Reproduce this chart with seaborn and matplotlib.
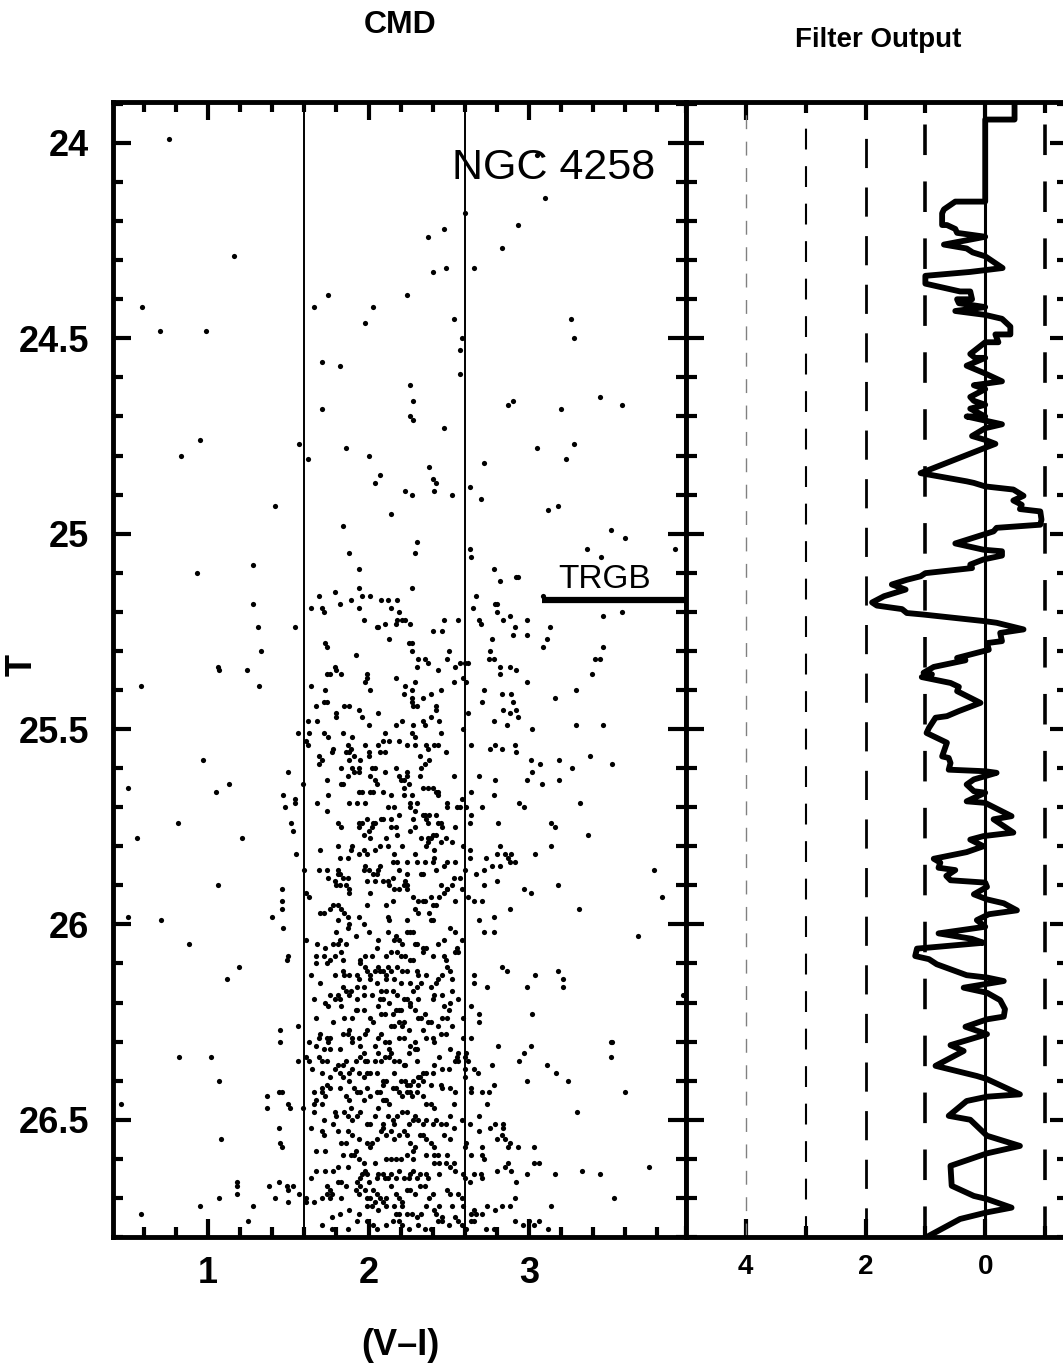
import matplotlib
matplotlib.use("Agg")
import matplotlib.pyplot as plt
import seaborn as sns
import pandas as pd
from matplotlib.ticker import MultipleLocator, FuncFormatter

sns.set_style("ticks")
plt.rcParams['font.family'] = ['Liberation Sans', 'DejaVu Sans']
plt.rcParams['lines.scale_dashes'] = False
for key in ['text.color', 'axes.labelcolor', 'xtick.color', 'ytick.color', 'axes.edgecolor']:
    plt.rcParams[key] = 'black'

# ---- CMD stars, (V-I colour, T magnitude) ----
# bright part, above the tip
stars_bright = [
    (0.76, 23.99), (3.05, 24.03), (3.10, 24.14), (2.60, 24.18), (2.47, 24.22), (2.37, 24.24),
    (2.93, 24.21), (2.83, 24.27), (1.16, 24.29), (2.40, 24.33), (2.48, 24.32), (2.66, 24.32),
    (0.59, 24.42), (1.75, 24.39), (2.24, 24.39), (1.66, 24.42), (2.03, 24.42), (0.70, 24.48),
    (0.99, 24.48), (1.98, 24.46), (2.53, 24.45), (3.26, 24.45), (3.28, 24.50), (2.58, 24.50),
    (2.57, 24.53), (1.71, 24.56), (1.82, 24.57), (2.57, 24.59), (2.26, 24.62), (2.28, 24.66),
    (2.87, 24.67), (2.90, 24.66), (3.44, 24.65), (3.58, 24.67), (3.20, 24.68), (1.71, 24.68),
    (2.26, 24.70), (2.28, 24.71), (2.47, 24.73), (0.95, 24.76), (0.83, 24.80), (1.57, 24.77),
    (1.62, 24.81), (1.86, 24.78), (2.00, 24.80), (3.05, 24.78), (3.28, 24.77), (3.23, 24.81),
    (2.72, 24.82), (2.38, 24.83), (2.40, 24.86), (2.42, 24.87), (2.41, 24.89), (2.07, 24.85),
    (2.04, 24.87), (2.23, 24.89), (2.27, 24.90), (2.52, 24.90), (2.63, 24.88), (2.70, 24.91),
    (1.42, 24.93), (2.14, 24.95), (3.12, 24.94), (3.18, 24.93), (1.84, 24.98), (3.51, 24.99),
    (3.60, 25.01), (2.30, 25.02), (2.29, 25.05), (1.88, 25.05), (2.63, 25.04), (2.64, 25.06),
    (3.36, 25.04), (3.45, 25.06), (3.91, 25.04),
]

# faint field stars well away from the giant branch
stars_field = [
    (1.28, 25.08), (0.93, 25.10), (1.28, 25.18), (1.31, 25.24), (1.33, 25.30), (1.06, 25.34),
    (1.07, 25.35), (1.24, 25.35), (1.32, 25.39), (0.58, 25.39), (0.97, 25.58), (0.50, 25.65),
    (1.05, 25.66), (1.13, 25.64), (0.81, 25.74), (0.56, 25.78), (1.21, 25.78), (1.06, 25.90),
    (0.50, 25.98), (0.71, 25.99), (0.88, 26.05), (1.12, 26.14), (1.19, 26.11), (0.82, 26.34),
    (1.02, 26.34), (1.07, 26.40), (0.46, 26.46), (1.08, 26.55), (1.18, 26.66), (1.18, 26.67),
    (1.07, 26.70), (1.18, 26.69), (0.95, 26.72), (0.58, 26.74), (1.25, 26.76), (1.28, 26.72),
    (3.58, 25.20), (3.46, 25.21), (3.46, 25.29), (3.44, 25.32), (3.41, 25.32), (3.39, 25.36),
    (3.46, 25.49), (3.52, 25.59), (3.78, 25.86), (3.83, 25.93), (3.68, 26.03), (3.96, 26.18),
    (3.60, 26.43), (3.75, 26.62), (3.44, 26.64), (3.53, 26.70), (3.51, 26.30), (3.52, 26.30),
    (3.51, 26.34),
]

# red giant branch, T = 25.07 - 25.91
stars_rgb_top = [
    (1.94, 25.09), (2.78, 25.09), (2.82, 25.12), (2.92, 25.11), (2.93, 25.11), (1.94, 25.14),
    (2.27, 25.14), (1.79, 25.15), (1.69, 25.16), (1.96, 25.16), (2.01, 25.16), (1.82, 25.18),
    (1.89, 25.17), (2.08, 25.17), (2.12, 25.17), (2.18, 25.17), (2.67, 25.16), (2.65, 25.19),
    (2.79, 25.18), (2.80, 25.18), (3.09, 25.16), (1.64, 25.19), (1.71, 25.19), (1.72, 25.20),
    (1.94, 25.19), (2.14, 25.19), (2.19, 25.20), (1.97, 25.22), (2.17, 25.23), (2.18, 25.22),
    (2.21, 25.22), (2.23, 25.22), (2.26, 25.23), (2.10, 25.23), (2.06, 25.24), (2.05, 25.24),
    (2.47, 25.22), (2.56, 25.22), (2.69, 25.22), (2.70, 25.23), (2.80, 25.20), (2.84, 25.22),
    (2.88, 25.21), (2.91, 25.24), (2.99, 25.22), (3.13, 25.24), (1.54, 25.24), (2.40, 25.25),
    (2.46, 25.25), (1.73, 25.28), (1.74, 25.29), (2.13, 25.27), (2.25, 25.28), (2.27, 25.28),
    (2.27, 25.30), (1.92, 25.31), (2.77, 25.27), (2.90, 25.26), (2.99, 25.26), (3.11, 25.27),
    (3.09, 25.29), (2.50, 25.30), (2.76, 25.30), (2.30, 25.34), (2.31, 25.32), (2.35, 25.32),
    (2.37, 25.33), (2.49, 25.32), (2.54, 25.34), (2.57, 25.33), (2.60, 25.33), (2.62, 25.33),
    (2.75, 25.32), (2.78, 25.32), (2.82, 25.34), (2.88, 25.34), (2.92, 25.35), (2.82, 25.36),
    (2.43, 25.35), (1.79, 25.34), (1.80, 25.35), (1.83, 25.36), (1.76, 25.36), (1.74, 25.36),
    (1.99, 25.36), (1.99, 25.37), (2.17, 25.37), (2.59, 25.37), (1.64, 25.39), (1.73, 25.40),
    (1.98, 25.38), (2.01, 25.40), (2.23, 25.39), (2.22, 25.41), (2.29, 25.38), (2.27, 25.40),
    (2.27, 25.42), (2.27, 25.43), (2.28, 25.44), (2.30, 25.44), (2.34, 25.42), (2.39, 25.41),
    (2.45, 25.40), (2.42, 25.44), (2.53, 25.38), (2.61, 25.38), (2.72, 25.40), (2.71, 25.43),
    (2.83, 25.41), (2.89, 25.41), (2.90, 25.43), (2.99, 25.38), (3.16, 25.42), (3.29, 25.40),
    (1.67, 25.44), (1.72, 25.43), (1.74, 25.43), (1.85, 25.44), (1.88, 25.44), (1.94, 25.45),
    (2.42, 25.45), (1.80, 25.46), (1.80, 25.47), (2.06, 25.46), (1.96, 25.47), (1.62, 25.48),
    (1.68, 25.48), (2.00, 25.49), (2.17, 25.49), (2.21, 25.48), (2.28, 25.49), (2.27, 25.51),
    (2.34, 25.48), (2.35, 25.49), (2.39, 25.47), (2.44, 25.48), (2.62, 25.46), (2.59, 25.50),
    (2.78, 25.48), (2.84, 25.45), (2.88, 25.46), (2.92, 25.45), (2.93, 25.47), (2.86, 25.49),
    (3.02, 25.50), (3.29, 25.49), (2.45, 25.51), (1.72, 25.51), (1.75, 25.52), (1.84, 25.51),
    (1.90, 25.52), (1.56, 25.51), (1.63, 25.51), (1.61, 25.53), (1.62, 25.54), (2.29, 25.52),
    (1.87, 25.54), (2.10, 25.51), (2.09, 25.53), (2.13, 25.53), (1.98, 25.54), (2.06, 25.54),
    (2.19, 25.53), (2.24, 25.54), (2.29, 25.54), (2.36, 25.54), (2.37, 25.55), (2.41, 25.54),
    (2.43, 25.54), (2.48, 25.56), (2.64, 25.54), (2.76, 25.55), (2.79, 25.54), (2.83, 25.55),
    (2.91, 25.54), (2.92, 25.56), (1.78, 25.55), (1.77, 25.56), (1.86, 25.56), (1.88, 25.56),
    (1.89, 25.55), (2.00, 25.56), (2.00, 25.57), (2.07, 25.56), (2.10, 25.56), (1.69, 25.57),
    (1.71, 25.58), (1.69, 25.59), (1.83, 25.60), (1.88, 25.58), (1.95, 25.58), (1.91, 25.57),
    (2.32, 25.57), (2.35, 25.59), (2.38, 25.58), (3.01, 25.58), (3.07, 25.59), (3.19, 25.58),
    (3.27, 25.60), (3.38, 25.57), (1.50, 25.61), (1.90, 25.60), (1.91, 25.61), (1.94, 25.60),
    (1.94, 25.61), (1.87, 25.62), (1.74, 25.63), (1.83, 25.64), (1.84, 25.64), (2.01, 25.62),
    (2.02, 25.60), (2.04, 25.60), (2.04, 25.63), (2.05, 25.64), (2.10, 25.61), (2.17, 25.60),
    (2.19, 25.62), (2.20, 25.63), (2.22, 25.63), (2.24, 25.62), (2.25, 25.64), (2.24, 25.61),
    (2.22, 25.65), (2.33, 25.60), (2.32, 25.62), (2.34, 25.65), (2.37, 25.65), (2.40, 25.65),
    (2.43, 25.66), (2.43, 25.67), (2.42, 25.66), (2.53, 25.62), (2.69, 25.62), (2.79, 25.63),
    (2.99, 25.63), (3.02, 25.61), (3.08, 25.64), (3.19, 25.63), (1.47, 25.67), (1.54, 25.68),
    (1.54, 25.69), (1.48, 25.70), (1.59, 25.64), (1.94, 25.66), (1.96, 25.66), (2.01, 25.66),
    (2.03, 25.66), (2.09, 25.66), (2.14, 25.67), (2.22, 25.67), (2.27, 25.67), (2.78, 25.67),
    (2.64, 25.66), (1.68, 25.69), (1.75, 25.67), (1.74, 25.71), (1.88, 25.69), (1.93, 25.69),
    (1.98, 25.69), (2.12, 25.70), (2.16, 25.70), (2.19, 25.72), (2.26, 25.70), (2.26, 25.69),
    (2.29, 25.71), (2.30, 25.69), (2.28, 25.73), (2.34, 25.72), (2.36, 25.73), (2.35, 25.72),
    (2.38, 25.72), (2.42, 25.72), (2.49, 25.69), (2.49, 25.70), (2.55, 25.70), (2.57, 25.70),
    (2.58, 25.68), (2.61, 25.70), (2.64, 25.72), (2.71, 25.70), (2.94, 25.69), (2.97, 25.70),
    (3.32, 25.69), (1.52, 25.74), (1.53, 25.76), (1.81, 25.74), (1.83, 25.75), (1.94, 25.75),
    (1.94, 25.74), (1.99, 25.73), (1.96, 25.74), (2.02, 25.75), (2.00, 25.76), (2.04, 25.74),
    (2.03, 25.74), (2.08, 25.73), (2.09, 25.73), (2.14, 25.73), (2.14, 25.75), (2.17, 25.75),
    (2.26, 25.76), (2.29, 25.75), (2.37, 25.74), (2.43, 25.74), (2.45, 25.74), (2.46, 25.75),
    (2.54, 25.75), (2.63, 25.74), (2.81, 25.74), (3.14, 25.74), (3.16, 25.75), (1.55, 25.82),
    (1.70, 25.81), (1.81, 25.80), (1.82, 25.83), (1.87, 25.83), (1.89, 25.81), (1.90, 25.80),
    (1.94, 25.82), (1.97, 25.81), (1.99, 25.82), (2.01, 25.78), (1.97, 25.77), (2.07, 25.80),
    (2.04, 25.81), (2.11, 25.78), (2.12, 25.80), (2.16, 25.82), (2.18, 25.77), (2.21, 25.80),
    (2.29, 25.82), (2.33, 25.78), (2.37, 25.78), (2.39, 25.78), (2.40, 25.77), (2.42, 25.77),
    (2.36, 25.80), (2.37, 25.79), (2.41, 25.81), (2.45, 25.79), (2.48, 25.78), (2.52, 25.79),
    (2.59, 25.80), (2.63, 25.81), (2.73, 25.83), (2.80, 25.82), (2.82, 25.80), (2.85, 25.82),
    (2.87, 25.83), (2.89, 25.82), (3.04, 25.82), (3.14, 25.80), (3.37, 25.77), (1.60, 25.86),
    (1.69, 25.86), (1.74, 25.86), (1.75, 25.88), (1.81, 25.86), (1.81, 25.87), (1.82, 25.87),
    (1.84, 25.88), (1.87, 25.88), (1.79, 25.89), (1.80, 25.90), (1.82, 25.90), (1.86, 25.90),
    (1.88, 25.91), (1.97, 25.86), (1.98, 25.85), (2.00, 25.86), (1.99, 25.89), (2.03, 25.87),
    (2.05, 25.87), (2.06, 25.86), (2.04, 25.89), (2.07, 25.85), (2.09, 25.89), (2.12, 25.89),
    (2.13, 25.90), (2.15, 25.88), (2.15, 25.84), (2.18, 25.84), (2.19, 25.86), (2.22, 25.90),
    (2.23, 25.89), (2.24, 25.90), (2.24, 25.87), (2.24, 25.84), (2.30, 25.84), (2.33, 25.87),
    (2.34, 25.87), (2.35, 25.84), (2.40, 25.84), (2.41, 25.83), (2.42, 25.86), (2.47, 25.85),
    (2.49, 25.84), (2.54, 25.84), (2.53, 25.88), (2.57, 25.88), (2.45, 25.90), (2.49, 25.91),
    (2.52, 25.90), (2.60, 25.86), (2.63, 25.83), (2.67, 25.87), (2.72, 25.86), (2.72, 25.90),
    (2.77, 25.85), (2.80, 25.89), (2.82, 25.85), (2.88, 25.84), (2.91, 25.84), (3.18, 25.90),
]

# red giant branch, T = 25.91 - 26.8
stars_rgb_low = [
    (1.46, 25.91), (1.61, 25.92), (1.63, 25.93), (1.88, 25.92), (2.01, 25.92), (2.16, 25.91),
    (2.19, 25.91), (2.24, 25.91), (2.28, 25.93), (2.31, 25.94), (2.35, 25.94), (2.39, 25.93),
    (2.44, 25.93), (2.47, 25.92), (2.49, 25.91), (2.54, 25.94), (2.58, 25.91), (2.62, 25.93),
    (2.66, 25.94), (2.71, 25.94), (2.97, 25.91), (3.01, 25.92), (1.46, 25.94), (1.46, 25.96),
    (1.40, 25.98), (1.70, 25.97), (1.72, 25.97), (1.76, 25.96), (1.78, 25.95), (1.81, 25.95),
    (1.83, 25.96), (1.85, 25.97), (1.87, 25.98), (1.81, 25.99), (1.99, 25.95), (2.11, 25.95),
    (2.15, 25.94), (2.29, 25.96), (2.31, 25.97), (2.34, 25.94), (2.40, 25.95), (2.42, 25.95),
    (2.38, 25.97), (2.39, 25.99), (2.40, 25.99), (1.94, 25.98), (1.97, 26.00), (2.12, 25.98),
    (2.13, 25.99), (2.24, 25.99), (2.78, 25.98), (2.88, 25.96), (3.31, 25.96), (2.69, 25.99),
    (1.47, 26.01), (1.80, 26.02), (1.82, 26.04), (1.81, 26.05), (1.78, 26.05), (1.87, 26.01),
    (1.88, 26.00), (1.92, 26.03), (2.00, 26.02), (2.06, 26.04), (2.12, 26.02), (2.17, 26.03),
    (2.16, 26.04), (2.19, 26.04), (2.21, 26.05), (2.24, 26.02), (2.26, 26.02), (2.28, 26.02),
    (2.29, 26.05), (2.30, 26.05), (2.34, 26.06), (2.36, 26.06), (2.43, 26.05), (2.47, 26.04),
    (2.51, 26.01), (2.54, 26.02), (2.58, 26.04), (1.61, 26.04), (1.68, 26.05), (1.73, 26.06),
    (1.83, 26.07), (1.86, 26.05), (2.05, 26.06), (2.02, 26.08), (1.98, 26.08), (1.95, 26.09),
    (2.11, 26.08), (2.14, 26.07), (2.18, 26.07), (2.20, 26.08), (2.23, 26.08), (2.26, 26.09),
    (2.28, 26.09), (2.34, 26.07), (2.40, 26.08), (2.47, 26.08), (2.48, 26.09), (2.54, 26.07),
    (2.56, 26.07), (2.55, 26.06), (2.72, 26.02), (2.78, 26.02), (1.67, 26.08), (1.72, 26.08),
    (1.79, 26.08), (1.50, 26.08), (1.49, 26.09), (1.67, 26.10), (1.74, 26.10), (1.76, 26.09),
    (1.84, 26.09), (1.84, 26.12), (1.85, 26.13), (1.88, 26.13), (1.93, 26.13), (1.95, 26.10),
    (1.98, 26.11), (1.99, 26.12), (2.01, 26.13), (2.04, 26.12), (2.06, 26.11), (2.07, 26.12),
    (2.09, 26.12), (2.11, 26.13), (2.12, 26.11), (2.14, 26.12), (2.16, 26.14), (2.18, 26.11),
    (2.21, 26.12), (2.24, 26.12), (2.30, 26.12), (2.31, 26.13), (2.33, 26.15), (2.36, 26.13),
    (2.39, 26.16), (2.42, 26.15), (2.43, 26.14), (2.46, 26.13), (2.49, 26.11), (2.51, 26.12),
    (2.52, 26.14), (1.64, 26.13), (1.70, 26.15), (1.79, 26.13), (1.84, 26.16), (1.89, 26.17),
    (1.93, 26.16), (1.94, 26.14), (1.97, 26.16), (2.01, 26.14), (2.05, 26.15), (2.08, 26.17),
    (2.11, 26.14), (2.15, 26.17), (2.20, 26.15), (2.26, 26.15), (2.28, 26.17), (2.30, 26.16),
    (2.52, 26.17), (2.66, 26.13), (2.66, 26.15), (2.74, 26.16), (2.83, 26.11), (2.86, 26.12),
    (2.99, 26.16), (3.04, 26.13), (3.18, 26.12), (3.21, 26.14), (3.21, 26.16), (1.66, 26.19),
    (1.73, 26.20), (1.75, 26.21), (1.76, 26.18), (1.79, 26.19), (1.81, 26.18), (1.82, 26.19),
    (1.86, 26.17), (1.88, 26.18), (1.83, 26.21), (1.93, 26.19), (1.97, 26.18), (2.02, 26.18),
    (2.07, 26.19), (2.09, 26.19), (2.11, 26.17), (2.18, 26.18), (2.22, 26.19), (2.24, 26.19),
    (2.26, 26.20), (2.31, 26.19), (2.40, 26.19), (2.41, 26.18), (2.46, 26.18), (2.47, 26.21),
    (2.51, 26.20), (2.56, 26.19), (1.67, 26.24), (1.78, 26.25), (1.85, 26.24), (1.90, 26.24),
    (1.92, 26.22), (1.93, 26.22), (1.97, 26.22), (2.01, 26.24), (2.03, 26.25), (2.06, 26.21),
    (2.08, 26.23), (2.10, 26.23), (2.13, 26.20), (2.15, 26.23), (2.17, 26.22), (2.19, 26.22),
    (2.20, 26.22), (2.22, 26.25), (2.26, 26.21), (2.29, 26.22), (2.31, 26.24), (2.33, 26.24),
    (2.35, 26.23), (2.37, 26.25), (2.39, 26.25), (2.43, 26.26), (2.46, 26.24), (2.49, 26.24),
    (2.50, 26.22), (2.52, 26.26), (2.59, 26.24), (2.64, 26.21), (2.69, 26.23), (2.69, 26.25),
    (3.02, 26.23), (1.56, 26.26), (1.45, 26.27), (1.45, 26.30), (1.63, 26.30), (1.67, 26.31),
    (1.69, 26.29), (1.70, 26.28), (1.74, 26.29), (1.76, 26.29), (1.75, 26.30), (1.72, 26.32),
    (1.76, 26.32), (1.82, 26.32), (1.84, 26.28), (1.87, 26.28), (1.90, 26.29), (1.90, 26.30),
    (1.88, 26.27), (1.94, 26.29), (1.95, 26.31), (1.98, 26.28), (1.99, 26.27), (2.04, 26.31),
    (2.06, 26.29), (2.08, 26.28), (2.10, 26.30), (2.13, 26.30), (2.13, 26.32), (2.14, 26.26),
    (2.16, 26.26), (2.19, 26.25), (2.21, 26.26), (2.19, 26.29), (2.22, 26.29), (2.25, 26.27),
    (2.26, 26.31), (2.29, 26.30), (2.30, 26.32), (2.34, 26.27), (2.36, 26.29), (2.40, 26.29),
    (2.41, 26.30), (2.45, 26.28), (2.48, 26.28), (2.51, 26.32), (2.56, 26.33), (2.59, 26.29),
    (2.64, 26.29), (2.81, 26.31), (3.01, 26.31), (2.97, 26.33), (1.56, 26.35), (1.61, 26.34),
    (1.63, 26.35), (1.65, 26.37), (1.69, 26.34), (1.71, 26.35), (1.74, 26.35), (1.79, 26.37),
    (1.81, 26.36), (1.84, 26.36), (1.86, 26.35), (1.88, 26.38), (1.90, 26.37), (1.92, 26.35),
    (1.95, 26.34), (1.97, 26.33), (1.98, 26.35), (1.99, 26.35), (2.04, 26.35), (2.06, 26.33),
    (2.08, 26.35), (2.10, 26.34), (2.13, 26.34), (2.14, 26.33), (2.16, 26.35), (2.19, 26.35),
    (2.22, 26.36), (2.23, 26.36), (2.25, 26.33), (2.29, 26.32), (2.30, 26.35), (2.32, 26.39),
    (2.34, 26.38), (2.36, 26.38), (2.40, 26.38), (2.41, 26.36), (2.44, 26.34), (2.46, 26.37),
    (2.50, 26.37), (2.54, 26.35), (2.55, 26.34), (2.56, 26.35), (2.60, 26.34), (2.61, 26.33),
    (2.62, 26.35), (2.66, 26.37), (2.64, 26.42), (2.68, 26.38), (2.77, 26.36), (2.94, 26.35),
    (2.99, 26.40), (3.11, 26.36), (3.17, 26.38), (3.24, 26.40), (1.71, 26.38), (1.76, 26.39),
    (1.82, 26.38), (1.84, 26.39), (1.88, 26.40), (1.94, 26.38), (1.97, 26.39), (1.99, 26.38),
    (2.01, 26.38), (2.05, 26.38), (2.09, 26.40), (2.09, 26.41), (2.11, 26.40), (2.16, 26.38),
    (2.17, 26.42), (2.20, 26.40), (2.23, 26.40), (2.24, 26.41), (2.26, 26.41), (2.28, 26.40),
    (2.31, 26.39), (2.31, 26.41), (2.34, 26.40), (2.39, 26.41), (2.45, 26.41), (2.51, 26.42),
    (2.54, 26.43), (2.60, 26.37), (2.60, 26.39), (1.71, 26.42), (1.74, 26.41), (1.76, 26.42),
    (1.82, 26.42), (1.37, 26.44), (1.44, 26.43), (1.46, 26.43), (1.66, 26.43), (1.67, 26.45),
    (1.71, 26.43), (1.73, 26.44), (1.86, 26.44), (1.88, 26.45), (1.91, 26.42), (1.93, 26.43),
    (1.95, 26.43), (1.97, 26.45), (1.99, 26.42), (2.01, 26.44), (2.05, 26.43), (2.07, 26.43),
    (2.09, 26.45), (2.10, 26.45), (2.11, 26.45), (2.13, 26.46), (2.15, 26.42), (2.19, 26.43),
    (2.21, 26.44), (2.24, 26.43), (2.26, 26.43), (2.27, 26.44), (2.30, 26.43), (2.34, 26.44),
    (2.36, 26.46), (2.39, 26.46), (2.41, 26.47), (2.46, 26.42), (2.53, 26.46), (2.64, 26.43),
    (2.71, 26.43), (2.75, 26.43), (2.78, 26.41), (2.74, 26.46), (2.69, 26.49), (1.37, 26.47),
    (1.50, 26.46), (1.51, 26.47), (1.59, 26.47), (1.66, 26.46), (1.66, 26.48), (1.71, 26.46),
    (1.72, 26.50), (1.79, 26.48), (1.80, 26.49), (1.85, 26.48), (1.87, 26.49), (1.89, 26.47),
    (1.90, 26.50), (1.93, 26.49), (1.95, 26.48), (1.99, 26.51), (2.01, 26.51), (2.04, 26.49),
    (2.06, 26.47), (2.09, 26.51), (2.12, 26.49), (2.15, 26.50), (2.16, 26.51), (2.18, 26.49),
    (2.21, 26.48), (2.24, 26.48), (2.25, 26.51), (2.28, 26.50), (2.29, 26.49), (2.31, 26.50),
    (2.34, 26.51), (2.36, 26.50), (2.40, 26.51), (2.42, 26.50), (2.45, 26.51), (2.48, 26.51),
    (2.51, 26.49), (2.58, 26.50), (2.63, 26.51), (2.69, 26.53), (2.76, 26.52), (2.79, 26.51),
    (2.84, 26.51), (3.30, 26.48), (1.64, 26.52), (1.71, 26.53), (1.72, 26.54), (1.78, 26.51),
    (1.81, 26.53), (1.83, 26.56), (1.86, 26.56), (1.87, 26.53), (1.90, 26.54), (1.91, 26.59),
    (1.92, 26.58), (1.94, 26.55), (1.99, 26.56), (2.01, 26.57), (2.02, 26.56), (2.05, 26.55),
    (2.08, 26.53), (2.09, 26.52), (2.11, 26.54), (2.14, 26.53), (2.16, 26.55), (2.19, 26.54),
    (2.22, 26.53), (2.24, 26.54), (2.26, 26.56), (2.28, 26.58), (2.29, 26.57), (2.32, 26.54),
    (2.34, 26.54), (2.36, 26.55), (2.39, 26.56), (2.41, 26.57), (2.43, 26.59), (2.44, 26.61),
    (2.47, 26.54), (2.51, 26.55), (2.53, 26.52), (2.60, 26.57), (2.64, 26.59), (2.61, 26.56),
    (2.71, 26.57), (2.71, 26.59), (2.72, 26.60), (2.80, 26.55), (2.83, 26.54), (2.84, 26.52),
    (2.85, 26.55), (2.87, 26.57), (2.88, 26.56), (2.93, 26.57), (3.03, 26.57), (1.45, 26.56),
    (1.46, 26.57), (1.44, 26.52), (1.67, 26.58), (1.73, 26.58), (1.84, 26.59), (1.89, 26.59),
    (1.94, 26.60), (1.97, 26.61), (2.04, 26.61), (2.11, 26.60), (2.14, 26.60), (2.17, 26.60),
    (2.20, 26.60), (2.24, 26.59), (2.28, 26.60), (2.36, 26.59), (2.41, 26.59), (2.49, 26.59),
    (2.53, 26.61), (1.67, 26.63), (1.73, 26.63), (1.78, 26.63), (1.81, 26.62), (1.87, 26.62),
    (1.83, 26.66), (1.81, 26.66), (1.74, 26.67), (1.76, 26.68), (1.64, 26.65), (1.61, 26.70),
    (1.93, 26.66), (1.95, 26.65), (1.96, 26.64), (1.98, 26.63), (1.99, 26.64), (2.00, 26.66),
    (2.05, 26.65), (2.06, 26.64), (2.09, 26.64), (2.10, 26.65), (2.12, 26.65), (2.14, 26.64),
    (2.17, 26.65), (2.19, 26.63), (2.22, 26.65), (2.25, 26.65), (2.26, 26.64), (2.28, 26.63),
    (2.30, 26.65), (2.32, 26.64), (2.36, 26.64), (2.37, 26.65), (2.41, 26.61), (2.44, 26.64),
    (2.48, 26.61), (2.51, 26.62), (2.54, 26.63), (2.59, 26.64), (2.60, 26.65), (2.63, 26.66),
    (2.66, 26.64), (2.70, 26.64), (2.71, 26.65), (2.80, 26.63), (2.85, 26.62), (2.87, 26.61),
    (2.89, 26.63), (2.92, 26.66), (2.99, 26.64), (3.03, 26.61), (3.06, 26.61), (3.16, 26.64),
    (3.33, 26.63), (1.38, 26.67), (1.42, 26.70), (1.44, 26.66), (1.49, 26.67), (1.50, 26.68),
    (1.50, 26.71), (1.53, 26.67), (1.57, 26.69), (1.61, 26.71), (1.66, 26.71), (1.71, 26.70),
    (1.74, 26.69), (1.76, 26.70), (1.77, 26.69), (1.83, 26.70), (1.86, 26.67), (1.92, 26.68),
    (1.94, 26.69), (1.95, 26.67), (1.98, 26.68), (1.99, 26.70), (2.01, 26.70), (2.03, 26.68),
    (2.05, 26.69), (2.07, 26.70), (2.09, 26.71), (2.11, 26.70), (2.14, 26.67), (2.17, 26.69),
    (2.19, 26.70), (2.21, 26.71), (2.24, 26.68), (2.26, 26.68), (2.29, 26.69), (2.32, 26.67),
    (2.35, 26.67), (2.38, 26.70), (2.40, 26.69), (2.44, 26.72), (2.49, 26.68), (2.51, 26.69),
    (2.56, 26.69), (2.58, 26.70), (1.88, 26.73), (1.94, 26.74), (1.99, 26.72), (2.02, 26.72),
    (2.04, 26.71), (2.06, 26.73), (2.11, 26.72), (2.16, 26.72), (2.17, 26.74), (2.19, 26.74),
    (2.21, 26.72), (2.24, 26.74), (2.27, 26.74), (2.30, 26.75), (2.33, 26.74), (2.36, 26.72),
    (2.41, 26.73), (2.42, 26.74), (2.46, 26.75), (2.52, 26.72), (2.54, 26.75), (2.59, 26.72),
    (2.64, 26.74), (2.66, 26.73), (2.67, 26.74), (2.71, 26.74), (2.64, 26.76), (2.66, 26.76),
    (2.74, 26.72), (2.79, 26.73), (2.83, 26.72), (2.88, 26.72), (2.91, 26.70), (2.91, 26.76),
    (2.96, 26.77), (3.00, 26.76), (3.03, 26.77), (3.06, 26.76), (3.12, 26.78), (3.14, 26.72),
    (1.77, 26.75), (1.82, 26.74), (1.77, 26.78), (1.71, 26.77), (1.87, 26.78), (1.93, 26.76),
    (1.99, 26.76), (2.03, 26.77), (2.05, 26.78), (2.11, 26.77), (2.15, 26.76), (2.19, 26.76),
    (2.21, 26.77), (2.25, 26.78), (2.31, 26.77), (2.35, 26.78), (2.39, 26.78), (2.43, 26.76),
    (2.46, 26.76), (2.50, 26.77), (2.56, 26.76), (2.58, 26.77), (2.61, 26.78), (2.73, 26.78),
    (2.78, 26.78),
]

colour_cuts = [1.6, 2.6]          # colour window used for the filter
trgb_mag = 25.17
trgb_colour_start = 3.08

# ---- edge-detection filter output vs magnitude ----
filt_mag = [
    23.89, 23.94, 23.94, 24.15, 24.15, 24.17, 24.18, 24.21, 24.21, 24.22, 24.23, 24.24,
    24.26, 24.27, 24.28, 24.29, 24.32, 24.33, 24.34, 24.36, 24.38, 24.38, 24.40, 24.40,
    24.41, 24.42, 24.43, 24.44, 24.45, 24.47, 24.49, 24.49, 24.51, 24.51, 24.54, 24.55,
    24.55, 24.57, 24.59, 24.61, 24.62, 24.63, 24.65, 24.66, 24.67, 24.68, 24.70, 24.70,
    24.72, 24.73, 24.75, 24.76, 24.77, 24.78, 24.845,
    24.866, 24.87, 24.879, 24.887, 24.903, 24.915, 24.926, 24.937, 24.943, 24.964, 24.977,
    24.985, 24.994, 25.025, 25.041, 25.045, 25.056, 25.066, 25.079, 25.088, 25.101, 25.109,
    25.118, 25.13, 25.143, 25.16, 25.176, 25.184, 25.193, 25.203, 25.207, 25.224, 25.228,
    25.245, 25.254, 25.275, 25.28, 25.297, 25.318, 25.324, 25.341, 25.356, 25.36, 25.367,
    25.382, 25.392, 25.403, 25.433, 25.454, 25.467, 25.471, 25.497, 25.51, 25.527, 25.535,
    25.57, 25.574, 25.587, 25.604, 25.608, 25.612, 25.629, 25.642, 25.659, 25.663, 25.685,
    25.689, 25.723, 25.731, 25.765, 25.774, 25.783, 25.80, 25.815, 25.832,
    25.842, 25.855, 25.861, 25.876, 25.887, 25.893, 25.904, 25.923, 25.936, 25.946, 25.964,
    25.974, 25.989, 26.006, 26.023, 26.037, 26.047, 26.062, 26.081, 26.089, 26.102, 26.13,
    26.136, 26.145, 26.162, 26.175, 26.194, 26.217, 26.236, 26.243, 26.262, 26.281, 26.309,
    26.324, 26.362, 26.388, 26.396, 26.435, 26.441, 26.452, 26.49, 26.50, 26.516, 26.541,
    26.567, 26.586, 26.618, 26.669, 26.695, 26.703, 26.725, 26.737, 26.754, 26.797, 26.82,
]
filt_out = [
    -0.49, -0.49, 0.0, 0.0, 0.50, 0.69, 0.72, 0.72, 0.64, 0.50, 0.47, 0.0,
    0.69, 0.31, 0.21, 0.0, -0.29, 0.25, 1.0, 1.0, 0.42, 0.25, 0.22, 0.47,
    0.44, 0.0, 0.50, 0.0, -0.28, -0.42, -0.42, -0.17, -0.22, 0.0, 0.25, 0.17,
    0.0, 0.31, 0.0, -0.28, 0.19, 0.0, 0.25, 0.19, 0.0, 0.25, 0.0, 0.31,
    -0.28, 0.0, 0.22, 0.0, -0.17, 0.0, 1.08,
    0.31, 0.19, 0.0, -0.47, -0.64, -0.47, -0.61, -0.58, -0.92, -0.94, -0.92,
    -0.19, -0.14, 0.50, 0.03, -0.28, -0.28, 0.03, 0.25, 0.22, 1.0, 1.08,
    1.31, 1.56, 1.33, 1.69, 1.89, 1.81, 1.39, 1.31, 1.03, 0.0, -0.19,
    -0.64, -0.25, -0.28, -0.03, -0.06, 0.47, 0.33, 0.86, 1.03, 0.89, 1.06,
    0.58, 0.44, 0.47, 0.08, 0.44, 0.64, 0.83, 0.94, 0.98, 0.75, 0.64,
    0.72, 0.61, 0.58, 0.61, 0.0, -0.19, 0.19, 0.31, 0.19, 0.0, 0.31,
    0.0, -0.44, -0.14, -0.47, 0.03, 0.25, 0.03, 0.31, 0.86,
    0.75, 0.78, 0.50, 0.65, 0.58, 0.0, -0.03, 0.19, -0.03, -0.31, -0.53,
    -0.06, 0.14, 0.0, 0.78, 0.22, 0.03, 1.14, 1.17, 0.94, 0.81, 0.31,
    -0.03, -0.31, 0.36, -0.03, -0.25, -0.33, -0.31, -0.03, 0.33, -0.03, 0.58,
    0.36, 0.83, 0.14, -0.03, -0.58, -0.03, 0.31, 0.61, 0.25, 0.14, -0.03,
    -0.58, -0.03, 0.58, 0.56, 0.19, -0.03, -0.44, -0.03, 0.42, 0.94, 1.05,
]
filt_levels = [4, 3, 2, 1, -1]
level_styles = {
    4: dict(color='0.5', lw=1.0, dashes=(10, 9)),
    3: dict(color='black', lw=1.5, dashes=(15, 12)),
    2: dict(color='black', lw=2.0, dashes=(21, 14)),
    1: dict(color='black', lw=2.6, dashes=(22, 19)),
    -1: dict(color='black', lw=2.6, dashes=(22, 19)),
}

cmd = pd.DataFrame(stars_bright + stars_field + stars_rgb_top + stars_rgb_low,
                   columns=['vi', 'T'])
filt = pd.DataFrame({'mag': filt_mag, 'out': filt_out})

fig = plt.figure(figsize=(10.63, 13.65), dpi=100)
ax1 = fig.add_axes([0.1063, 0.0938, 0.539, 0.8315])
ax2 = fig.add_axes([0.6453, 0.0938, 0.3594, 0.8315])

# CMD panel
sns.scatterplot(data=cmd, x='vi', y='T', ax=ax1, color='black', s=14,
                linewidth=0, legend=False)
for c in colour_cuts:
    ax1.axvline(c, color='black', lw=1.4)
ax1.set_xlim(0.408, 3.978)
ax1.set_ylim(26.8, 23.895)
ax1.hlines(trgb_mag, trgb_colour_start, ax1.get_xlim()[1], color='black', lw=4.5)
ax1.text(3.47, 25.118, 'TRGB', ha='center', va='center', fontsize=24)
ax1.text(3.785, 24.064, 'NGC 4258', ha='right', va='center', fontsize=31)

ax1.xaxis.set_major_locator(MultipleLocator(1))
ax1.xaxis.set_minor_locator(MultipleLocator(0.2))
ax1.yaxis.set_major_locator(MultipleLocator(0.5))
ax1.yaxis.set_minor_locator(MultipleLocator(0.1))
ax1.yaxis.set_major_formatter(FuncFormatter(lambda v, p: f'{v:g}'))
ax1.tick_params(which='both', direction='in', top=True, right=True, width=3)
ax1.tick_params(which='major', length=13)
ax1.tick_params(which='minor', length=7)
ax1.tick_params(axis='x', which='major', labelsize=26, pad=14)
ax1.tick_params(axis='y', which='major', labelsize=26, pad=17)
for lab in ax1.get_xticklabels() + ax1.get_yticklabels():
    lab.set_fontweight('bold')
ax1.set_xlabel('(V–I)', fontsize=26, fontweight='bold', va='center')
ax1.xaxis.set_label_coords(0.501, -0.096)
ax1.set_ylabel('T', fontsize=26, fontweight='bold', va='center')
ax1.yaxis.set_label_coords(-0.159, 0.504)

# filter output panel
for lv in filt_levels:
    ax2.axvline(lv, **level_styles[lv])
ax2.axvline(0, color='black', lw=2.2)
sns.lineplot(data=filt, x='out', y='mag', ax=ax2, sort=False, estimator=None,
             color='black', lw=4.2, solid_joinstyle='round')
ax2.set_xlim(5, -1.383)
ax2.set_ylim(26.8, 23.895)
ax2.xaxis.set_major_locator(MultipleLocator(2))
ax2.xaxis.set_minor_locator(MultipleLocator(1))
ax2.xaxis.set_major_formatter(FuncFormatter(lambda v, p: f'{v:.0f}'))
ax2.yaxis.set_major_locator(MultipleLocator(0.5))
ax2.yaxis.set_minor_locator(MultipleLocator(0.1))
ax2.tick_params(which='both', direction='in', top=True, right=True, width=3,
                labelleft=False)
ax2.tick_params(which='major', length=13)
ax2.tick_params(which='minor', length=8)
ax2.tick_params(axis='x', which='major', labelsize=20, pad=12)
for lab in ax2.get_xticklabels():
    lab.set_fontweight('bold')
ax2.set_xlabel('')
ax2.set_ylabel('')

for ax in (ax1, ax2):
    for sp in ax.spines.values():
        sp.set_linewidth(3.5)
        sp.set_color('black')

fig.text(400 / 1063, 1 - 25 / 1365, 'CMD', ha='center', va='center',
         fontsize=23, fontweight='bold')
fig.text(878 / 1063, 1 - 40 / 1365, 'Filter Output', ha='center', va='center',
         fontsize=20, fontweight='bold')

fig.savefig('out.png', dpi=100)
